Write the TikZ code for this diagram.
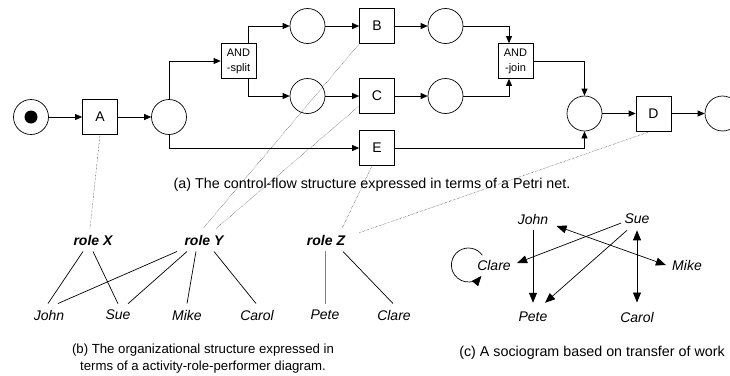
\documentclass[tikz,border=0pt]{standalone}
\usepackage{fontspec}
\setmainfont{Liberation Sans}
\usetikzlibrary{arrows.meta,calc}

\begin{document}
\begin{tikzpicture}[x=1pt,y=-1pt,line width=0.7pt,
  >={Triangle[length=7pt,width=6pt]},
  place/.style={draw,circle,minimum size=35pt,inner sep=0pt},
  trans/.style={draw,minimum size=35pt,inner sep=0pt,font=\fontsize{14}{14}\selectfont},
  gate/.style={trans,align=center,font=\fontsize{11}{15}\selectfont},
  role/.style={inner sep=6pt,font=\fontsize{14}{14}\selectfont\bfseries\itshape},
  person/.style={inner sep=6pt,font=\fontsize{14}{14}\selectfont\itshape},
  caption/.style={align=center,font=\fontsize{14.3}{17}\selectfont},
  link/.style={densely dotted,line width=0.4pt},
  sarrow/.style={-{Triangle[length=10pt,width=8pt]}},
  sboth/.style={{Triangle[length=10pt,width=8pt]}-{Triangle[length=10pt,width=8pt]}}]
\clip (0,0) rectangle (730,375);

% (a) Petri net
\node[place] (start) at (31,117) {};
\fill (start) circle[radius=6.5];
\node[trans] (A) at (100,117) {A};
\node[place] (p1) at (169,117) {};
\node[gate] (split) at (238.5,61) {AND\\-split};
\node[place] (p2) at (307.5,26) {};
\node[place] (p3) at (307.5,96) {};
\node[trans] (B) at (377,26) {B};
\node[trans] (C) at (377,96) {C};
\node[trans] (E) at (377,148) {E};
\node[place] (p4) at (445.5,26) {};
\node[place] (p5) at (445.5,96) {};
\node[gate] (join) at (515.5,61) {AND\\-join};
\node[place] (p6) at (584.5,113.5) {};
\node[trans] (D) at (653.5,113.5) {D};
\node[place] (end) at (722.5,113.5) {};

\draw[->] (start) -- (A);
\draw[->] (A) -- (p1);
\draw[->] (p1.north) |- (split.west);
\draw[->] ([xshift=9.5pt]split.north) |- (p2.west);
\draw[->] ([xshift=9.5pt]split.south) |- (p3.west);
\draw[->] (p1.south) |- (E.west);
\draw[->] (p2) -- (B);
\draw[->] (p3) -- (C);
\draw[->] (B) -- (p4);
\draw[->] (C) -- (p5);
\draw[->] (p4.east) -| ([xshift=-6.5pt]join.north);
\draw[->] (p5.east) -| ([xshift=-6.5pt]join.south);
\draw[->] (join.east) -| (p6.north);
\draw[->] (E.east) -| (p6.south);
\draw[->] (p6) -- (D);
\draw[->] (D) -- (end);

\node[caption] (capA) at (372,185) {(a) The control-flow structure expressed in terms of a Petri net.};

% (b) roles and performers
\node[role] (roleX) at (93,240) {role X};
\node[role] (roleY) at (204,240) {role Y};
\node[role] (roleZ) at (326,240) {role Z};
\node[person] (John) at (49,315) {John};
\node[person] (Sue) at (118,315) {Sue};
\node[person] (Mike) at (187,315) {Mike};
\node[person] (Carol) at (257,315) {Carol};
\node[person] (Pete) at (325,315) {Pete};
\node[person] (Clare) at (394,315) {Clare};

\draw ([xshift=-10pt]roleX.south) -- ([xshift=-1pt]John.north);
\draw (roleX.south) -- (Sue.north);
\draw ([xshift=-27pt]roleY.south) -- ([xshift=9pt]John.north);
\draw ([xshift=-17pt]roleY.south) -- ([xshift=10pt]Sue.north);
\draw ([xshift=-8pt]roleY.south) -- (Mike.north);
\draw ([xshift=10pt]roleY.south) -- ([xshift=-1pt]Carol.north);
\draw[gray] ([xshift=-1pt]roleZ.south) -- (Pete.north);
\draw ([xshift=17pt]roleZ.south) -- ([xshift=-1pt]Clare.north);

% activities to roles
\draw[link] (A.south) -- ([xshift=-3pt]roleX.north);
\draw[link] (B.south west) -- ([xshift=-1pt]roleY.north);
\draw[link] ([yshift=-10pt]C.west) -- ([xshift=12pt]roleY.north);
\draw[link] ([xshift=-5pt]E.south) -- ([xshift=16pt]roleZ.north);
\draw[link] ([xshift=-3pt]D.south) -- ([xshift=7pt,yshift=7pt]roleZ.east);

\node[caption,font=\fontsize{13.2}{17}\selectfont] (capB) at (203,359) {(b) The organizational structure expressed in\\terms of a activity-role-performer diagram.};

% (c) sociogram
\node[person] (sJohn) at (533,219) {John};
\node[person] (sSue) at (637,219) {Sue};
\node[person] (sClare) at (494,265) {Clare};
\node[person] (sMike) at (687,265) {Mike};
\node[person] (sPete) at (533,317) {Pete};
\node[person] (sCarol) at (637,317) {Carol};

\draw[sarrow] (sJohn.south) -- ([yshift=3pt]sPete.north);
\draw[sarrow] ([xshift=3pt,yshift=-4pt]sSue.west) -- ([yshift=2pt]sClare.east);
\draw[sarrow] ([xshift=-10pt]sSue.south) -- ([xshift=12pt,yshift=3pt]sPete.north);
\draw[sboth] (sSue.south) -- ([yshift=3pt]sCarol.north);
\draw[sboth] ([xshift=2pt,yshift=-7pt]sJohn.east) -- (sMike.west);
\draw[sarrow] ($(sClare.west)+(11.4,-9.75)$) arc[start angle=-35,end angle=-320,radius=17];

\node[caption] (capC) at (592,353) {(c) A sociogram based on transfer of work};
\end{tikzpicture}
\end{document}
